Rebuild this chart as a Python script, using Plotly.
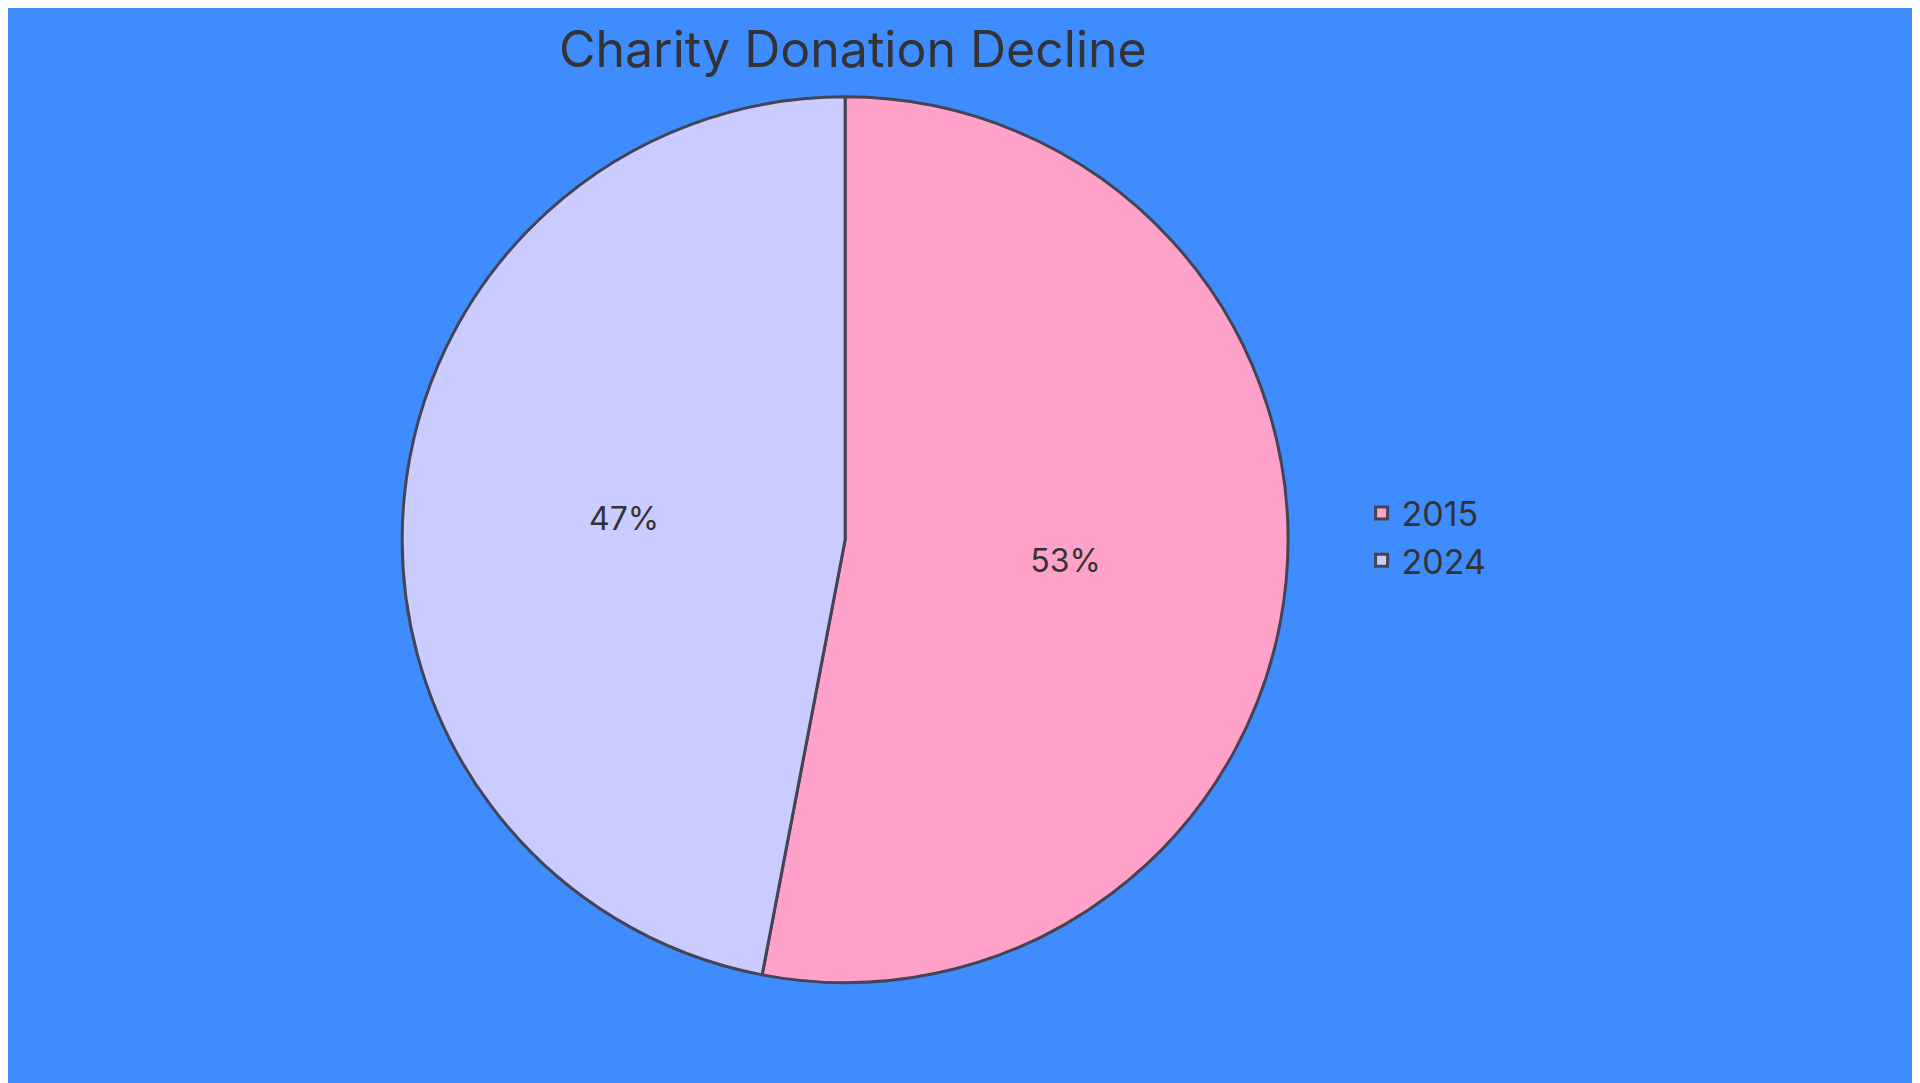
import plotly.graph_objects as go

# data
labels = ["2015", "2024"]
values = [53, 47]
colors = ["#ffa2c9", "#cacbff"]

fig = go.Figure(go.Pie(
    labels=labels, values=values, sort=False, direction="clockwise", rotation=0,
    marker=dict(colors=colors, line=dict(color="#444455", width=3)),
    textinfo="percent", textposition="inside", insidetextorientation="horizontal",
    textfont=dict(size=32, color="#333333"),
    domain=dict(x=[0.205, 0.667], y=[0.100, 0.918]),
))

fig.update_layout(
    width=1920, height=1083,
    paper_bgcolor="#3f8cff", plot_bgcolor="#3f8cff",
    margin=dict(l=0, r=0, t=0, b=0),
    font=dict(family="Inter, sans-serif", color="#333333"),
    title=dict(text="Charity Donation Decline", x=0.44, xanchor="center",
               y=0.962, yanchor="middle", font=dict(size=50, color="#333333")),
    legend=dict(x=0.705, y=0.56, yanchor="top", font=dict(size=34, color="#333333"),
                bgcolor="rgba(0,0,0,0)"),
)

fig.write_html("out.html")
